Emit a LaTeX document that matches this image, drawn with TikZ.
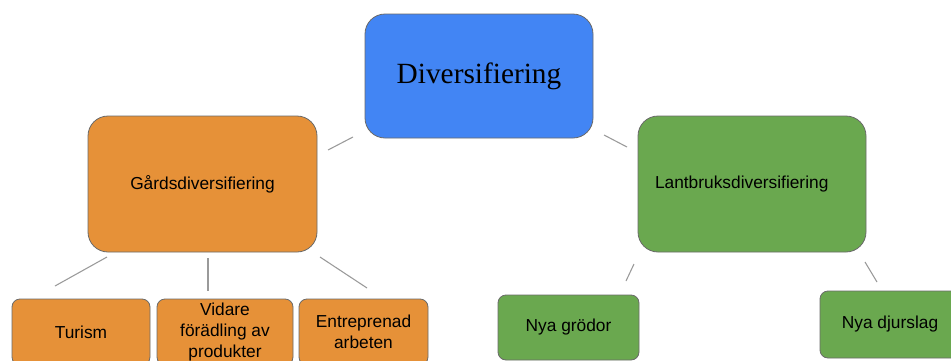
\documentclass[tikz,border=0pt]{standalone}
\usepackage{fontspec}
\setmainfont{Liberation Sans}
\newfontfamily\timesfont{Liberation Serif}
\definecolor{bluebox}{HTML}{4285F4}
\definecolor{orangebox}{HTML}{E69138}
\definecolor{greenbox}{HTML}{6AA84F}
\definecolor{edgegray}{HTML}{6A6A6A}
\definecolor{linegray}{HTML}{9A9A9A}
\tikzset{
  box/.style={draw=edgegray, line width=0.6pt, inner sep=0pt, align=center, text=black,
    font=\fontsize{13}{15.5}\selectfont},
  bigbox/.style={box, rounded corners=15pt},
  smallbox/.style={box, rounded corners=6pt},
  link/.style={draw=linegray, line width=0.8pt}
}
\begin{document}
\begin{tikzpicture}[x=0.75pt,y=-0.75pt]
\clip (0,0) rectangle (951,361);
\fill[white] (0,0) rectangle (951,361);
% main nodes
\node[bigbox, fill=bluebox, minimum width=171pt, minimum height=93pt,
  font=\timesfont\fontsize{22}{26}\selectfont] (div) at (479,76) {Diversifiering};
\node[bigbox, fill=orangebox, minimum width=171.75pt, minimum height=102pt] (gard) at (202.5,184) {Gårdsdiversifiering};
\node[bigbox, fill=greenbox, minimum height=102pt, inner xsep=12.75pt, text width=145.5pt, align=left] (lant) at (752,184) {Lantbruksdiversifiering};
% bottom nodes
\node[smallbox, fill=orangebox, minimum width=103.5pt, minimum height=49.5pt] (tur) at (81,332) {Turism};
\node[smallbox, fill=orangebox, minimum width=102pt, minimum height=49.5pt] (vid) at (225,332) {Vidare\\förädling av\\produkter};
\node[smallbox, fill=orangebox, minimum width=96.75pt, minimum height=49.5pt] (ent) at (363.5,332) {Entreprenad\\arbeten};
\node[smallbox, fill=greenbox, minimum width=105.75pt, minimum height=48.75pt] (gro) at (568.5,327.5) {Nya grödor};
\node[smallbox, fill=greenbox, minimum width=105pt, minimum height=50.25pt] (dju) at (890,324.5) {Nya djurslag};
% connector end points
\coordinate (a1) at (353,137); \coordinate (a2) at (328,150);
\coordinate (b1) at (604,135); \coordinate (b2) at (627,147);
\coordinate (c1) at (107,257); \coordinate (c2) at (55,286);
\coordinate (d1) at (208,258); \coordinate (d2) at (208,291);
\coordinate (e1) at (320,257); \coordinate (e2) at (367,288);
\coordinate (f1) at (634,264); \coordinate (f2) at (626,281);
\coordinate (g1) at (865,262); \coordinate (g2) at (877,282);
\draw[link] (a1) -- (a2);
\draw[link] (b1) -- (b2);
\draw[link] (c1) -- (c2);
\draw[link] (d1) -- (d2);
\draw[link] (e1) -- (e2);
\draw[link] (f1) -- (f2);
\draw[link] (g1) -- (g2);
\end{tikzpicture}
\end{document}
